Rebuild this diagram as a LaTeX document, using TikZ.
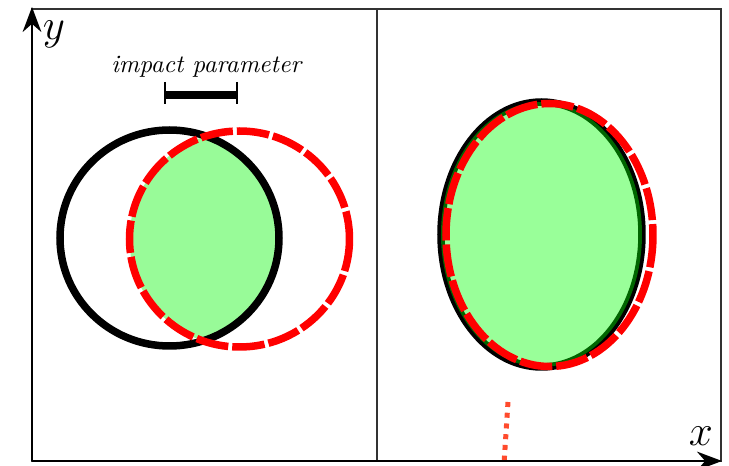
\documentclass[tikz,border=0pt]{standalone}
\usetikzlibrary{arrows.meta}
\begin{document}
\begin{tikzpicture}[x=0.4pt,y=-0.4pt]
\useasboundingbox (0,0) rectangle (729,466);
\tikzset{
  blackring/.style={line width=3pt, black},
  reddash/.style={line width=3pt, red, dash pattern=on 13pt off 1.6pt},
  lensfill/.style={fill={rgb,255:red,152;green,251;blue,152}},
  framestyle/.style={line width=0.7pt, draw={rgb,255:red,50;green,50;blue,50}},
  axisstyle/.style={line width=0.8pt, black, -{Stealth[length=10pt,width=7.5pt]}},
  barstyle/.style={line width=3pt, black},
  tickstyle/.style={line width=0.9pt, black},
  dotline/.style={line width=2pt, draw={rgb,255:red,255;green,75;blue,45}, dash pattern=on 2pt off 2.3pt},
  axlabel/.style={font=\fontsize{19}{22}\selectfont},
}
% frame and divider
\draw[framestyle] (32,9) rectangle (721,461);
\coordinate (divtop) at (377,9);
\coordinate (divbot) at (377,461);
\draw[framestyle] (divtop) -- (divbot);

% left: overlapping circles
\begin{scope}
  \clip (169.5,238) ellipse [x radius=109.5, y radius=108];
  \fill[lensfill] (239.5,239) ellipse [x radius=110, y radius=108];
\end{scope}
\draw[blackring] (169.5,238) ellipse [x radius=109.5, y radius=108];
\draw[reddash] (239.5,239) ellipse [x radius=110, y radius=108];

% impact parameter bar
\coordinate (barL) at (165,95);
\coordinate (barR) at (237,95);
\coordinate (tLt) at (165,82);
\coordinate (tLb) at (165,104);
\coordinate (tRt) at (237,82);
\coordinate (tRb) at (237,104);
\draw[barstyle] (barL) -- (barR);
\draw[tickstyle] (tLt) -- (tLb);
\draw[tickstyle] (tRt) -- (tRb);
\node (iplab) at (207,67) {\textit{impact parameter}};

% right: nearly coincident ellipses
\draw[blackring] (541.5,234.5) ellipse [x radius=100.5, y radius=132.5];
\fill[green, opacity=0.4] (541.5,234.5) ellipse [x radius=100.5, y radius=132.5];
\draw[reddash] (549.5,235) ellipse [x radius=103.5, y radius=131.5];

% dotted line
\coordinate (dtop) at (508,402);
\coordinate (dbot) at (503.5,472);
\draw[dotline] (dtop) -- (dbot);

% axes
\coordinate (O) at (32,461);
\coordinate (ytip) at (32,7);
\coordinate (xtip) at (722,461);
\draw[axisstyle] (O) -- (ytip);
\draw[axisstyle] (O) -- (xtip);
\node[axlabel] (ylab) at (54,34) {$y$};
\node[axlabel] (xlab) at (701,436) {$x$};
\end{tikzpicture}
\end{document}
